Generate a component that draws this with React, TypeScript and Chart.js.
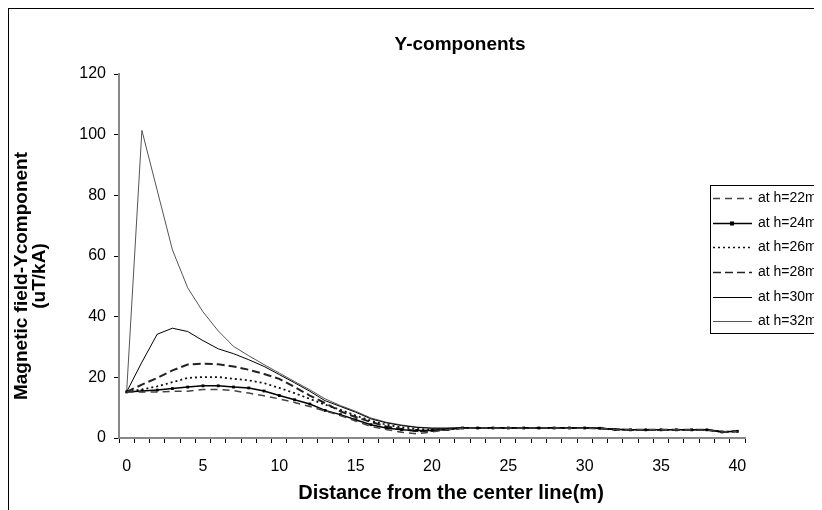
import React, { useEffect, useRef } from "react";
import { Chart, registerables } from "chart.js";

Chart.register(...registerables);

const distance = [
  "0", "1", "2", "3", "4", "5", "6", "7", "8", "9", "10",
  "11", "12", "13", "14", "15", "16", "17", "18", "19", "20",
  "21", "22", "23", "24", "25", "26", "27", "28", "29", "30",
  "31", "32", "33", "34", "35", "36", "37", "38", "39", "40",
];

const h22 = [15.2, 15.2, 15.2, 15.4, 15.4, 16, 16, 15.6, 14.8, 13.9, 12.9, 11.7, 10.4, 8.9, 7.4, 5.6, 3.8, 2.8, 1.9, 1.4, 2.0,
  2.7, 3.2, 3.3, 3.3, 3.3, 3.3, 3.3, 3.3, 3.2, 3.2, 3.1, 2.8, 2.7, 2.7, 2.7, 2.7, 2.7, 2.6, 2.0, 2.1];
const h24 = [15.2, 15.5, 15.8, 16.3, 16.8, 17.2, 17.2, 16.8, 16.5, 15.5, 14, 12.6, 11.2, 9.1, 7.7, 6, 4.4, 3.3, 2.7, 2.5, 2.5,
  2.8, 3.3, 3.3, 3.3, 3.3, 3.3, 3.3, 3.3, 3.3, 3.3, 3.2, 2.8, 2.7, 2.7, 2.7, 2.7, 2.7, 2.7, 2.0, 2.2];
const h26 = [15.2, 16, 17, 18.4, 19.8, 20.1, 20.1, 19.5, 19, 18.1, 16.5, 14.8, 12.9, 11, 9.3, 7.4, 5.7, 4.4, 3.5, 3.0, 2.7,
  2.8, 3.3, 3.3, 3.3, 3.3, 3.3, 3.3, 3.3, 3.3, 3.3, 3.2, 2.8, 2.7, 2.7, 2.7, 2.7, 2.7, 2.7, 2.0, 2.2];
const h28 = [15.2, 17.6, 19.8, 22.3, 24.2, 24.5, 24.3, 23.6, 22.5, 21.1, 19.5, 16.8, 14, 11.5, 8.8, 6.9, 5.3, 3.8, 3.0, 2.2, 2.5,
  2.8, 3.3, 3.3, 3.3, 3.3, 3.3, 3.3, 3.3, 3.3, 3.3, 3.2, 2.8, 2.7, 2.7, 2.7, 2.7, 2.7, 2.7, 2.0, 2.2];
const h30 = [15.2, 25, 34.2, 36.2, 35.1, 32.1, 29.4, 27.8, 25.8, 23.6, 20.9, 18.2, 15.4, 12.3, 10.4, 8.5, 6.3, 5.0, 4.1, 3.5, 3.2,
  3.2, 3.4, 3.4, 3.4, 3.4, 3.4, 3.4, 3.4, 3.4, 3.3, 3.2, 2.9, 2.8, 2.8, 2.8, 2.8, 2.8, 2.7, 2.1, 2.2];
const h32 = [15.2, 101.4, 81.7, 62, 49.5, 41.6, 35.3, 30.2, 27.1, 24.2, 21.4, 18.6, 15.9, 12.9, 10.7, 8.8, 6.6, 5.2, 4.3, 3.6, 3.3,
  3.3, 3.4, 3.4, 3.4, 3.4, 3.4, 3.4, 3.4, 3.4, 3.3, 3.2, 2.9, 2.8, 2.8, 2.8, 2.8, 2.8, 2.7, 2.1, 2.2];

const seriesNames = ["at h=22m", "at h=24m", "at h=26m", "at h=28m", "at h=30m", "at h=32m"];
const yTicks = [0, 20, 40, 60, 80, 100, 120];
const chartTitle = "Y-components";
const yTitle = ["Magnetic field-Ycomponent", "(uT/kA)"];
const xTitle = "Distance from the center line(m)";

const W = 840;
const H = 510;
const FONT = "'Liberation Sans', Arial, sans-serif";

const frameTitlesLegend = {
  id: "frameTitlesLegend",
  beforeDraw(chart: any) {
    const ctx = chart.ctx;
    ctx.save();
    ctx.fillStyle = "#fff";
    ctx.fillRect(0, 0, chart.width, chart.height);
    ctx.strokeStyle = "#000";
    ctx.lineWidth = 1;
    ctx.strokeRect(0.5, 0.5, chart.width - 1, chart.height - 1);
    ctx.restore();
  },
  afterDraw(chart: any) {
    const ctx = chart.ctx;
    ctx.save();
    ctx.fillStyle = "#000";
    ctx.textAlign = "center";
    ctx.textBaseline = "middle";
    // chart title
    ctx.font = `bold 19px ${FONT}`;
    ctx.fillText(chartTitle, 452, 37);
    // x axis title
    ctx.font = `bold 20px ${FONT}`;
    ctx.fillText(xTitle, 443, 485);
    // y axis title (two lines, rotated)
    ctx.font = `bold 19px ${FONT}`;
    [14, 32].forEach((x, i) => {
      ctx.save();
      ctx.translate(x, 268);
      ctx.rotate(-Math.PI / 2);
      ctx.fillText(yTitle[i], 0, 0);
      ctx.restore();
    });
    ctx.restore();

    // legend
    const bx = 702.5;
    const by = 177.5;
    const bh = 148;
    ctx.save();
    ctx.fillStyle = "#fff";
    ctx.fillRect(bx, by, 200, bh);
    ctx.strokeStyle = "#000";
    ctx.lineWidth = 1;
    ctx.strokeRect(bx, by, 200, bh);
    const step = bh / chart.data.datasets.length;
    chart.data.datasets.forEach((ds: any, i: number) => {
      const y = Math.round(by + step * (i + 0.5)) + 0.5;
      ctx.save();
      ctx.strokeStyle = ds.borderColor;
      ctx.lineWidth = Math.min(ds.borderWidth, 1.5);
      ctx.setLineDash(ds.borderDash || []);
      ctx.beginPath();
      ctx.moveTo(705, y);
      ctx.lineTo(744, y);
      ctx.stroke();
      ctx.restore();
      if (ds.pointRadius > 0) {
        ctx.fillStyle = ds.pointBackgroundColor;
        ctx.fillRect(722, y - 2, 4, 4);
      }
      ctx.fillStyle = "#000";
      ctx.font = `14px ${FONT}`;
      ctx.textBaseline = "middle";
      ctx.textAlign = "left";
      ctx.fillText(ds.label, 750, y);
    });
    ctx.restore();
  },
};

export default function App() {
  const ref = useRef<HTMLCanvasElement | null>(null);

  useEffect(() => {
    if (!ref.current) return;
    const mk = (label: string, data: number[], color: string, width: number, dash: number[], marker = false) => ({
      label,
      data,
      borderColor: color,
      backgroundColor: color,
      borderWidth: width,
      borderDash: dash,
      pointRadius: marker ? 2 : 0,
      pointStyle: "rect",
      pointBackgroundColor: "#000",
      pointBorderColor: "#000",
      pointBorderWidth: 0,
      tension: 0,
      fill: false,
    });
    const chart = new Chart(ref.current, {
      type: "line",
      data: {
        labels: distance,
        datasets: [
          mk(seriesNames[0], h22, "#444", 1.5, [7, 5]),
          mk(seriesNames[1], h24, "#000", 1.5, [], true),
          mk(seriesNames[2], h26, "#111", 1.8, [2, 3]),
          mk(seriesNames[3], h28, "#222", 2, [8, 4]),
          mk(seriesNames[4], h30, "#000", 1, []),
          mk(seriesNames[5], h32, "#555", 1, []),
        ] as any,
      },
      options: {
        responsive: false,
        animation: false,
        devicePixelRatio: 1,
        layout: { padding: { left: 0, right: W - 737, top: 66, bottom: 0 } },
        plugins: {
          legend: { display: false },
          tooltip: { enabled: false },
          title: { display: false },
        },
        scales: {
          x: {
            type: "category",
            offset: true,
            grid: {
              offset: true,
              drawOnChartArea: false,
              drawTicks: true,
              tickLength: 5,
              color: "#000",
            },
            border: { display: true, color: "#888", width: 2 },
            ticks: {
              autoSkip: false,
              maxRotation: 0,
              color: "#000",
              padding: 14,
              font: { family: FONT, size: 16 },
              callback: (_v: any, i: number) => (Number(distance[i]) % 5 === 0 ? distance[i] : ""),
            },
            title: { display: false },
            afterFit: (s: any) => {
              s.height = H - 430;
            },
          },
          y: {
            min: 0,
            max: 120,
            afterBuildTicks: (s: any) => {
              s.ticks = yTicks.map((v) => ({ value: v }));
            },
            grid: {
              drawOnChartArea: false,
              drawTicks: true,
              tickLength: 5,
              color: "#000",
            },
            border: { display: true, color: "#888", width: 2 },
            ticks: {
              color: "#000",
              padding: 8,
              font: { family: FONT, size: 16 },
            },
            title: { display: false },
            afterFit: (s: any) => {
              s.width = 111;
            },
          },
        },
      },
      plugins: [frameTitlesLegend],
    });
    return () => chart.destroy();
  }, []);

  return (
    <div style={{ width: 814, height: 502, overflow: "hidden" }}>
      <canvas ref={ref} width={W} height={H} style={{ display: "block", width: W, height: H }} />
    </div>
  );
}
